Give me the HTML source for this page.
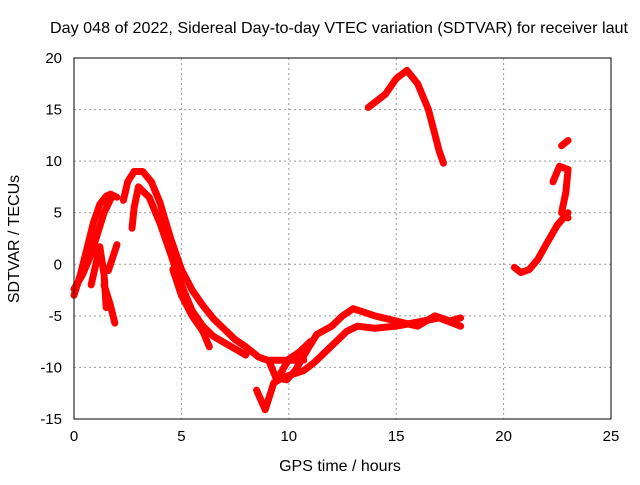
<!DOCTYPE html>
<html><head><meta charset="utf-8"><style>
body{margin:0;background:#fff;font-family:"Liberation Sans",sans-serif}
svg text{font-family:"Liberation Sans",sans-serif;font-size:15px;fill:#000}
</style></head><body>
<svg id="chart" width="640" height="480" xmlns="http://www.w3.org/2000/svg">
<text x="339" y="33" text-anchor="middle" style="font-size:16px" textLength="578" lengthAdjust="spacingAndGlyphs">Day 048 of 2022, Sidereal Day-to-day VTEC variation (SDTVAR) for receiver laut</text>
<text x="340" y="471" text-anchor="middle" style="font-size:16px">GPS time / hours</text>
<text transform="translate(19,239) rotate(-90)" text-anchor="middle" style="font-size:16px">SDTVAR / TECUs</text>
<g id="grid"></g>
<g id="ticks"></g>
<g id="series"></g>
<rect x="74" y="58" width="537" height="361" fill="none" stroke="#000" stroke-width="1"/>
</svg>
<script>
const xTicks=[0,5,10,15,20,25];
const yTicks=[-15,-10,-5,0,5,10,15,20];
const traceA1=[[0,-3],[0.3,-1],[0.6,1.5],[0.9,4],[1.2,5.8],[1.5,6.6],[1.7,6.8],[2,6.5]];
const traceA2=[[0,-2.4],[0.4,-1],[0.8,1],[1.1,3],[1.4,5],[1.7,6.3]];
const traceA3=[[0.8,-2],[1.2,1.7],[1.4,-1],[1.5,-4.2]];
const traceA4=[[1.6,-0.6],[2,1.9]];
const traceA5=[[1.4,-2],[1.7,-4],[1.9,-5.7]];
const traceB1=[[2.3,6.2],[2.5,8],[2.8,9],[3.2,9],[3.6,8],[4,6],[4.5,2.5],[5,-0.5],[5.5,-2.5],[6,-4],[6.5,-5.3],[7,-6.3],[7.5,-7.3],[8,-8],[8.3,-8.5],[8.6,-9],[9,-9.3],[10,-9.3],[10.7,-9.3]];
const traceB2=[[3,7.5],[3.5,6.5],[4,4],[4.5,1],[5,-2],[5.5,-4.5],[6,-6],[6.5,-7],[7,-7.6],[7.5,-8.2],[8,-8.8]];
const traceB3=[[4.6,-0.5],[5,-3],[5.5,-5],[6,-6.5],[6.3,-8]];
const traceB4=[[2.7,3.5],[2.8,5.5],[3,7.5]];
const traceC=[[8.5,-12.2],[8.9,-14.1],[9.3,-11.5],[9.7,-11],[10.7,-10.3],[11.2,-9.5],[11.7,-8.5],[12.2,-7.5],[12.7,-6.5],[13.2,-6],[14,-6.2],[15,-6],[16,-5.6],[17,-5.2],[18,-6]];
const traceD=[[9.1,-9.5],[9.4,-11],[9.9,-11.2],[10.3,-10.3],[10.8,-8.5],[11.3,-6.8],[12,-6],[12.5,-5],[13,-4.3],[14,-5],[15,-5.5],[16,-6],[16.8,-5],[17.5,-5.5],[18,-5.2]];
const traceE=[[9.5,-11],[10,-9.2],[10.5,-8.5],[11,-7.5]];
const traceF=[[13.7,15.2],[14.5,16.5],[15,18],[15.5,18.8],[16,17.5],[16.5,15],[17,11],[17.2,9.8]];
const traceG=[[20.5,-0.3],[20.8,-0.8],[21.2,-0.5],[21.6,0.5],[22,2],[22.5,3.8],[23,5]];
const traceH=[[22.3,8],[22.6,9.5],[23,9.2],[22.9,7],[22.7,5],[23,4.5]];
const traceI=[[22.7,11.5],[23,12]];
const traces=[traceA1,traceA2,traceA3,traceA4,traceA5,traceB1,traceB2,traceB3,traceB4,traceC,traceD,traceE,traceF,traceG,traceH,traceI];
const X=h=>74+h*(537/25);
const Y=v=>58+(20-v)*(361/35);
const NS="http://www.w3.org/2000/svg";
const grid=document.getElementById('grid'),ticks=document.getElementById('ticks'),ser=document.getElementById('series');
function mk(tag,at,parent){const e=document.createElementNS(NS,tag);for(const k in at)e.setAttribute(k,at[k]);parent.appendChild(e);return e;}
xTicks.forEach(t=>{
 if(t>0&&t<25){const g=mk('line',{x1:X(t),x2:X(t),y1:58,y2:419,stroke:'#999','stroke-dasharray':'2,3'},grid);
 
 }
 const l=mk('text',{x:X(t),y:441,'text-anchor':'middle'},ticks);l.textContent=t;
 
 
});
yTicks.forEach(t=>{
 if(t>-15&&t<20){const g=mk('line',{x1:74,x2:611,y1:Y(t),y2:Y(t),stroke:'#999','stroke-dasharray':'2,3'},grid);
 
 }
 const l=mk('text',{x:62,y:Y(t)+5,'text-anchor':'end'},ticks);l.textContent=t;
 
 
});
traces.forEach(tr=>{
 const p=mk('polyline',{points:tr.map(d=>X(d[0])+','+Y(d[1])).join(' '),fill:'none',stroke:'#f00','stroke-width':7,'stroke-linejoin':'round','stroke-linecap':'round'},ser);
 
 
});
</script>
</body></html>
